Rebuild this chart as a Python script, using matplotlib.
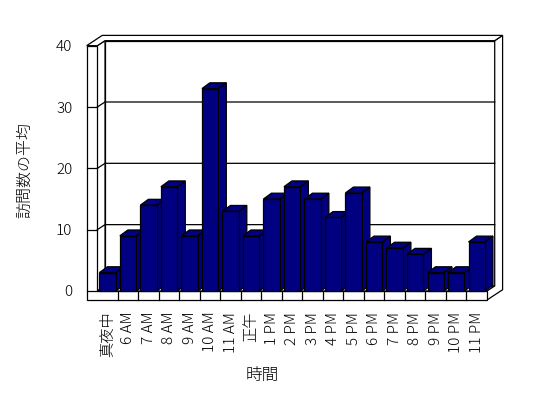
import matplotlib
matplotlib.use("Agg")
import matplotlib.pyplot as plt
from matplotlib.patches import Polygon

# average visits per hour of day
hours = ["真夜中", "6 AM", "7 AM", "8 AM", "9 AM", "10 AM", "11 AM", "正午",
         "1 PM", "2 PM", "3 PM", "4 PM", "5 PM", "6 PM", "7 PM", "8 PM",
         "9 PM", "10 PM", "11 PM"]
avg_visits = [3, 9, 14, 17, 9, 33, 13, 9, 15, 17, 15, 12, 16, 8, 7, 6, 3, 3, 8]
y_ticks = [0, 10, 20, 30, 40]

plt.rcParams['font.family'] = ['Noto Sans CJK JP', 'DejaVu Sans']
plt.rcParams['font.weight'] = 'light'
plt.rcParams['axes.labelweight'] = 'light'
navy = "#000080"
lw = 0.9

fig = plt.figure(figsize=(5.48, 3.98), dpi=100)
# axes = front plane of the 3d box
ax = fig.add_axes([97.3 / 548, 1 - 291 / 398, 389.7 / 548, 245.3 / 398])
n = len(hours)
x0, x1 = -0.5, n - 0.5
top = y_ticks[-1]
ax.set_xlim(x0, x1)
ax.set_ylim(0, top)
for s in ax.spines.values():
    s.set_visible(False)

# depth offsets in data units
ddx, ddy = 0.376, 0.82    # front plane -> back wall inner face
odx, ody = 0.76, 1.68     # front plane -> back wall outer face
wall = 0.52               # left wall thickness
floor = 1.47              # floor thickness
bdx, bdy = 0.39, 0.95     # bar depth


def face(pts, fc="white", z=1):
    ax.add_patch(Polygon(pts, closed=True, fc=fc, ec="black", lw=lw,
                         zorder=z, clip_on=False))


# walls and floor
face([(x0 + ddx, ddy), (x1 + ddx, ddy), (x1 + ddx, top + ddy), (x0 + ddx, top + ddy)])
face([(x0, 0), (x0 + ddx, ddy), (x0 + ddx, top + ddy), (x0, top)])
face([(x0, 0), (x1, 0), (x1 + ddx, ddy), (x0 + ddx, ddy)])
face([(x1, -floor), (x1, 0), (x1 + ddx, ddy), (x1 + ddx, top + ddy),
      (x1 + odx, top + ody), (x1 + odx, -floor + ody)])
face([(x0 - wall, top), (x0, top), (x0 + ddx, top + ddy), (x1 + ddx, top + ddy),
      (x1 + odx, top + ody), (x0 - wall + odx, top + ody)])
face([(x0 - wall, -floor), (x1, -floor), (x1, 0), (x0, 0), (x0, top), (x0 - wall, top)])

# gridlines on left and back walls
for v in y_ticks[1:-1]:
    ax.plot([x0, x0 + ddx, x1 + ddx], [v, v + ddy, v + ddy], color="black",
            lw=lw, zorder=2, clip_on=False)
# ticks across the front of the left wall
for v in y_ticks[:-1]:
    ax.plot([x0 - wall, x0], [v, v], color="black", lw=lw, zorder=2, clip_on=False)
# category dividers on the floor front
for k in range(1, n):
    ax.plot([k - 0.5, k - 0.5], [-floor, 0], color="black", lw=lw, zorder=2, clip_on=False)

# bars
w = 0.8
bars = ax.bar(range(n), avg_visits, width=w, color=navy, edgecolor="black", lw=lw)
for i, (rect, v) in enumerate(zip(bars, avg_visits)):
    z = 10 + i
    rect.set_zorder(z + 0.5)
    rect.set_clip_on(False)
    l = i - w / 2
    face([(l + w, 0), (l + w + bdx, bdy), (l + w + bdx, v + bdy), (l + w, v)], navy, z)
    face([(l, v), (l + w, v), (l + w + bdx, v + bdy), (l + bdx, v + bdy)], navy, z)

ax.set_xticks(range(n), hours, rotation=90, fontsize=11)
ax.set_yticks(y_ticks)
ax.tick_params(axis='x', length=0, pad=14.9)
ax.tick_params(axis='y', length=0, pad=18, labelsize=11)

ax.set_ylabel("訪問数の平均", fontsize=11.5, va='center')
ax.yaxis.set_label_coords((25 - 97.3) / 389.7, (291 - 170) / 245.3)
ax.set_xlabel("時間", fontsize=12, va='center')
ax.xaxis.set_label_coords((262 - 97.3) / 389.7, (291 - 375) / 245.3)

fig.savefig("out.png", dpi=100)
